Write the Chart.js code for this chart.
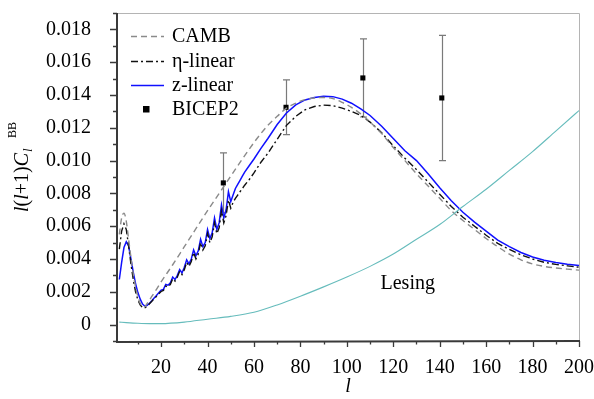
<!DOCTYPE html>
<html>
<head>
<meta charset="utf-8">
<script src="https://cdn.jsdelivr.net/npm/chart.js@4"></script>
<style>
  html, body { margin: 0; padding: 0; background: #fff; }
  #wrap { width: 594px; height: 399px; }
</style>
</head>
<body>
<div id="wrap"><canvas id="bbChart" width="594" height="399"></canvas></div>
<script>
// values are in units of 1e-3
const UNIT = 1e-3;

// multipoles shared by the two linear-model curves
const ell = [2, 3, 4, 5, 6, 7, 8, 9, 10, 11, 12, 13, 14, 15, 16, 17, 18, 19, 20,
    21, 22, 23, 24, 25, 26, 27, 28, 29, 30, 31, 32, 33, 34, 35, 36, 37, 38, 39, 40,
    41, 42, 43, 44, 45, 46, 47, 48, 49, 50, 51, 52, 53, 54, 55, 56,
    58, 60, 63, 66, 70, 74, 78, 82, 86, 90, 94, 98, 102, 106, 110,
    115, 120, 125, 130, 135, 140, 145, 150, 155, 160, 165, 170, 175, 180, 185, 190, 195, 200];

const zLinear = [2.75, 3.8, 4.7, 5.05, 4.8, 4.0, 3.2, 2.5, 1.95, 1.55, 1.25, 1.12, 1.18, 1.3, 1.45, 1.62, 1.77, 1.95, 2.1,
    2.15, 2.45, 2.4, 2.55, 2.9, 2.75, 3.0, 3.35, 3.15, 3.5, 3.95, 3.7, 4.0, 4.55, 4.2, 4.5, 5.2, 4.75, 5.0, 5.8,
    5.25, 5.6, 6.5, 5.8, 6.2, 7.3, 6.5, 7.0, 8.1, 7.5, 7.9, 8.3, 8.55, 8.8, 9.05, 9.3,
    9.7, 10.1, 10.75, 11.35, 12.2, 12.9, 13.4, 13.7, 13.85, 13.92, 13.9, 13.75, 13.5, 13.15, 12.75,
    12.1, 11.35, 10.6, 10.0, 9.2, 8.35, 7.55, 6.85, 6.25, 5.7, 5.15, 4.75, 4.4, 4.12, 3.92, 3.78, 3.68, 3.6];

const etaLinear = [4.6, 5.7, 6.15, 5.8, 4.8, 3.7, 2.75, 2.0, 1.5, 1.2, 1.03, 1.02, 1.12, 1.27, 1.42, 1.58, 1.72, 1.88, 2.02,
    2.08, 2.35, 2.3, 2.45, 2.8, 2.65, 2.9, 3.25, 3.05, 3.35, 3.8, 3.55, 3.85, 4.4, 4.0, 4.3, 5.0, 4.55, 4.8, 5.55,
    5.0, 5.35, 6.2, 5.55, 5.9, 6.95, 6.2, 6.65, 7.6, 7.1, 7.45, 7.7, 7.9, 8.1, 8.3, 8.5,
    8.85, 9.25, 9.9, 10.45, 11.3, 12.15, 12.7, 13.1, 13.3, 13.38, 13.35, 13.2, 13.0, 12.75, 12.35,
    11.7, 10.9, 10.15, 9.45, 8.7, 7.95, 7.2, 6.55, 6.0, 5.45, 4.95, 4.58, 4.25, 4.0, 3.8, 3.67, 3.58, 3.5];

// CAMB reference curve
const cambEll = [2, 3, 4, 5, 6, 7, 8, 9, 10, 11, 12, 13, 14, 15, 16, 18, 20, 25, 30, 35, 40, 45, 50, 55, 60,
    63, 66, 70, 74, 78, 82, 86, 90, 94, 98, 102, 106, 110, 115, 120, 125, 130, 135, 140, 145, 150,
    155, 160, 165, 170, 175, 180, 185, 190, 195, 200];
const camb = [5.5, 6.5, 6.8, 6.3, 5.2, 4.1, 3.1, 2.3, 1.7, 1.3, 1.08, 1.1, 1.3, 1.5, 1.72, 2.15, 2.6, 3.65, 4.75, 5.85, 6.95, 8.0, 9.05, 10.1, 11.1,
    11.65, 12.15, 12.7, 13.2, 13.5, 13.72, 13.82, 13.85, 13.78, 13.55, 13.25, 12.85, 12.35, 11.65, 10.8, 10.0, 9.2, 8.45, 7.7, 6.95, 6.35,
    5.8, 5.25, 4.75, 4.3, 3.95, 3.7, 3.55, 3.45, 3.38, 3.32];

// lensing B-modes
const lensEll = [2, 5, 10, 15, 20, 30, 40, 50, 60, 70, 80, 90, 100, 110, 120, 130, 140, 150, 160, 170, 180, 190, 200];
const lensing = [0.15, 0.12, 0.08, 0.06, 0.06, 0.15, 0.33, 0.5, 0.75, 1.2, 1.73, 2.3, 2.9, 3.55, 4.3, 5.2, 6.1, 7.2, 8.25, 9.4, 10.55, 11.8, 13.05];

// BICEP2 band powers
const bicepEll = [46.8, 73.8, 106.9, 140.9];
const bicep = [8.64, 13.25, 15.04, 13.82];
const bicepErr = [1.83, 1.67, 2.38, 3.82];

// axis ticks
const xTicks = [10, 20, 30, 40, 50, 60, 70, 80, 90, 100, 110, 120, 130, 140, 150, 160, 170, 180, 190, 200];
const yTicks = [-1, 0, 1, 2, 3, 4, 5, 6, 7, 8, 9, 10, 11, 12, 13, 14, 15, 16, 17, 18, 19];

const lensLabel = { text: 'Lesing', x: 114.5, y: 2.5 };

const SERIF = '"Liberation Serif", "Times New Roman", serif';

function toPoints(xs, ys) {
    return xs.map((x, i) => ({ x: x, y: ys[i] * UNIT }));
}

const styles = {
    camb: { color: '#8a8a8a', dash: [6, 4], width: 1.4 },
    eta: { color: '#111111', dash: [7, 3, 2, 3], width: 1.4 },
    z: { color: '#1010ff', dash: [], width: 1.5 },
    lens: { color: '#66bcbc', dash: [], width: 1.1 }
};

function noPad(s) {
    s.paddingTop = 0;
    s.paddingBottom = 0;
    s.paddingLeft = 0;
    s.paddingRight = 0;
}

// error bars, frame, ticks, titles and legend
const decorations = {
    id: 'decorations',
    beforeDatasetsDraw(chart) {
        const ctx = chart.ctx;
        const xs = chart.scales.x, ys = chart.scales.y;
        ctx.save();
        ctx.strokeStyle = '#7a7a7a';
        ctx.lineWidth = 1.2;
        bicepEll.forEach((l, i) => {
            const px = Math.round(xs.getPixelForValue(l)) + 0.5;
            const top = ys.getPixelForValue((bicep[i] + bicepErr[i]) * UNIT);
            const bot = ys.getPixelForValue((bicep[i] - bicepErr[i]) * UNIT);
            ctx.beginPath();
            ctx.moveTo(px, top); ctx.lineTo(px, bot);
            ctx.moveTo(px - 3.5, top); ctx.lineTo(px + 3.5, top);
            ctx.moveTo(px - 3.5, bot); ctx.lineTo(px + 3.5, bot);
            ctx.stroke();
        });
        ctx.restore();
    },
    afterDraw(chart) {
        const ctx = chart.ctx;
        const a = chart.chartArea;
        const xs = chart.scales.x, ys = chart.scales.y;
        ctx.save();

        // light frame on top and right
        ctx.strokeStyle = '#b4b4b4';
        ctx.lineWidth = 1;
        ctx.beginPath();
        ctx.moveTo(a.left, a.top + 0.5); ctx.lineTo(a.right + 0.5, a.top + 0.5);
        ctx.lineTo(a.right + 0.5, a.bottom);
        ctx.stroke();

        // dark axes with ticks
        ctx.strokeStyle = '#3a3a3a';
        ctx.lineWidth = 2;
        ctx.beginPath();
        ctx.moveTo(a.left, a.top); ctx.lineTo(a.left, a.bottom + 1);
        ctx.lineTo(a.right + 1, a.bottom);
        ctx.stroke();
        ctx.lineWidth = 1.3;
        ctx.beginPath();
        xTicks.forEach(v => {
            const px = Math.round(xs.getPixelForValue(v)) + 0.5;
            const len = v % 20 === 0 ? 6 : 3.5;
            ctx.moveTo(px, a.bottom); ctx.lineTo(px, a.bottom + len);
        });
        yTicks.forEach(v => {
            const py = Math.round(ys.getPixelForValue(v * UNIT)) + 0.5;
            const len = Math.abs(v) % 2 === 0 ? 7 : 4;
            ctx.moveTo(a.left, py); ctx.lineTo(a.left - len, py);
        });
        ctx.stroke();

        ctx.fillStyle = '#000';
        ctx.textBaseline = 'alphabetic';

        // x title
        ctx.font = 'italic 20px ' + SERIF;
        ctx.textAlign = 'center';
        ctx.fillText('l', 348, 392);

        // y title: l(l+1)C_l^BB, rotated
        ctx.save();
        ctx.translate(28, 212);
        ctx.rotate(-Math.PI / 2);
        ctx.textAlign = 'left';
        let x = 0;
        const parts = [['l', true], ['(', false], ['l', true], ['+1)', false], ['C', true]];
        parts.forEach(p => {
            ctx.font = (p[1] ? 'italic ' : '') + '20px ' + SERIF;
            ctx.fillText(p[0], x, 0);
            x += ctx.measureText(p[0]).width;
        });
        ctx.font = 'italic 13px ' + SERIF;
        ctx.fillText('l', x + 1, 4);
        ctx.font = '12px ' + SERIF;
        ctx.fillText('BB', x + 15, -12);
        ctx.restore();

        // lensing label
        ctx.font = '20px ' + SERIF;
        ctx.textAlign = 'left';
        ctx.textBaseline = 'middle';
        ctx.fillText(lensLabel.text, xs.getPixelForValue(lensLabel.x), ys.getPixelForValue(lensLabel.y * UNIT));

        // legend
        const rows = [
            ['CAMB', styles.camb],
            ['\u03b7-linear', styles.eta],
            ['z-linear', styles.z],
            ['BICEP2', null]
        ];
        const rowY = [36, 61, 85, 109];
        rows.forEach((r, i) => {
            const y = rowY[i];
            if (r[1]) {
                ctx.save();
                ctx.strokeStyle = r[1].color;
                ctx.lineWidth = r[1].width;
                ctx.setLineDash(r[1].dash);
                ctx.beginPath();
                ctx.moveTo(131, y + 0.5); ctx.lineTo(164, y + 0.5);
                ctx.stroke();
                ctx.restore();
            } else {
                ctx.fillRect(143, y - 3, 6.5, 6.5);
            }
            ctx.fillStyle = '#000';
            ctx.fillText(r[0], 172, y + 1);
        });

        ctx.restore();
    }
};

function lineSet(label, pts, st, smooth) {
    return {
        label: label,
        data: pts,
        showLine: true,
        borderColor: st.color,
        borderWidth: st.width,
        borderDash: st.dash,
        pointRadius: 0,
        fill: false,
        tension: 0,
        cubicInterpolationMode: smooth ? 'monotone' : 'default'
    };
}

const canvas = document.getElementById('bbChart');
new Chart(canvas.getContext('2d'), {
    type: 'scatter',
    data: {
        datasets: [
            lineSet('Lensing', toPoints(lensEll, lensing), styles.lens, true),
            lineSet('CAMB', toPoints(cambEll, camb), styles.camb, true),
            lineSet('\u03b7-linear', toPoints(ell, etaLinear), styles.eta, false),
            lineSet('z-linear', toPoints(ell, zLinear), styles.z, false),
            {
                label: 'BICEP2',
                data: toPoints(bicepEll, bicep),
                pointStyle: 'rect',
                pointRadius: 3.6,
                backgroundColor: '#000',
                borderColor: '#000',
                borderWidth: 0,
                showLine: false
            }
        ]
    },
    options: {
        responsive: false,
        animation: false,
        devicePixelRatio: 1,
        layout: { padding: { left: 0, top: 13, right: 15, bottom: 0 } },
        plugins: {
            legend: { display: false },
            tooltip: { enabled: false }
        },
        scales: {
            x: {
                type: 'linear',
                min: 1,
                max: 200,
                grid: { display: false },
                border: { display: false },
                afterBuildTicks: s => { s.ticks = xTicks.map(v => ({ value: v })); },
                afterFit: s => { s.height = 58; noPad(s); },
                ticks: {
                    autoSkip: false,
                    maxRotation: 0,
                    padding: 7,
                    color: '#000',
                    font: { family: SERIF, size: 20 },
                    callback: v => (v % 20 === 0 ? String(v) : '')
                }
            },
            y: {
                type: 'linear',
                min: -1 * UNIT,
                max: 19 * UNIT,
                grid: { display: false },
                border: { display: false },
                afterBuildTicks: s => { s.ticks = yTicks.map(v => ({ value: v * UNIT })); },
                afterFit: s => { s.width = 117; noPad(s); },
                ticks: {
                    autoSkip: false,
                    padding: 18,
                    color: '#000',
                    font: { family: SERIF, size: 20 },
                    callback: v => {
                        const k = Math.round(v / UNIT);
                        if (k < 0 || k % 2 !== 0) return '';
                        return k === 0 ? '0' : (k * UNIT).toFixed(3);
                    }
                }
            }
        }
    },
    plugins: [decorations]
});
</script>
</body>
</html>
